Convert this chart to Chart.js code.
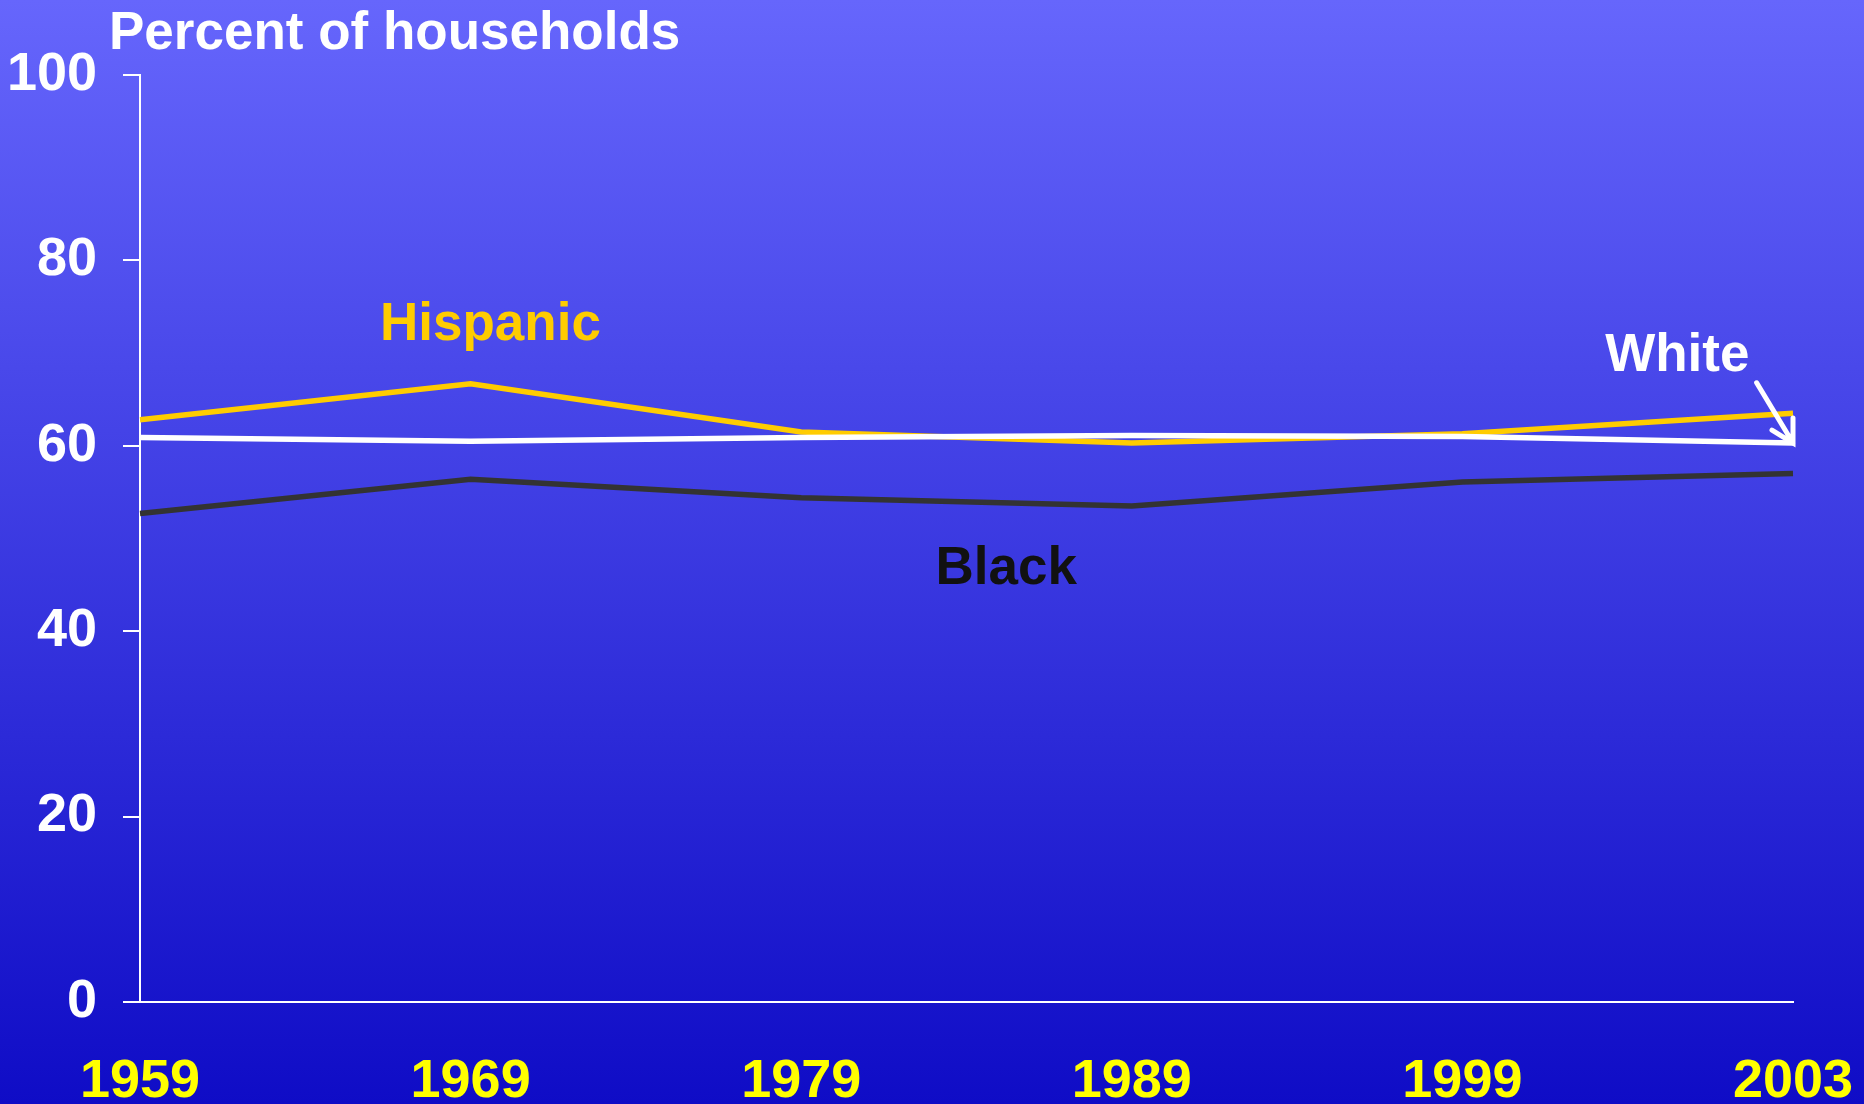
<!DOCTYPE html>
<html>
<head>
<meta charset="utf-8">
<script src="https://cdn.jsdelivr.net/npm/chart.js@4.4.1/dist/chart.umd.min.js"></script>
<style>
  html, body { margin: 0; padding: 0; background: #3a3ae0; }
  canvas { display: block; }
</style>
</head>
<body>
<canvas id="chart" width="1864" height="1104"></canvas>
<script>
const years = ['1959', '1969', '1979', '1989', '1999', '2003'];
const hispanic = [62.8, 66.7, 61.5, 60.3, 61.3, 63.5];
const white = [60.9, 60.5, 60.9, 61.1, 61.0, 60.3];
const black = [52.7, 56.4, 54.4, 53.5, 56.1, 57.0];
const yTicks = [0, 20, 40, 60, 80, 100];

const FONT = '"Liberation Sans", Arial, sans-serif';

// fond dégradé + titre + étiquettes des séries
const decor = {
  id: 'decor',
  beforeDraw(chart) {
    const c = chart.ctx;
    const g = c.createLinearGradient(0, 0, 0, chart.height);
    g.addColorStop(0, '#6666fc');
    g.addColorStop(1, '#0f0cc6');
    c.save();
    c.fillStyle = g;
    c.fillRect(0, 0, chart.width, chart.height);
    c.restore();
  },
  afterDraw(chart) {
    const c = chart.ctx;
    const x = chart.scales.x, y = chart.scales.y;
    c.save();
    c.font = 'bold 53px ' + FONT;
    c.textBaseline = 'alphabetic';
    c.textAlign = 'left';
    c.fillStyle = '#ffffff';
    c.fillText('Percent of households', 109, 49);

    c.textAlign = 'center';
    c.textBaseline = 'middle';
    c.fillStyle = '#ffcc00';
    c.fillText('Hispanic', x.getPixelForValue(1.06), y.getPixelForValue(73.0));
    c.fillStyle = '#ffffff';
    c.fillText('White', x.getPixelForValue(4.65), y.getPixelForValue(69.6));
    c.fillStyle = '#111111';
    c.fillText('Black', x.getPixelForValue(2.62), y.getPixelForValue(46.7));

    // flèche vers la courbe White
    const tx = x.getPixelForValue(5), ty = y.getPixelForValue(white[5]);
    const sx = x.getPixelForValue(4.89), sy = y.getPixelForValue(66.8);
    c.strokeStyle = '#ffffff';
    c.lineWidth = 5;
    c.lineCap = 'round';
    c.beginPath();
    c.moveTo(sx, sy);
    c.lineTo(tx, ty);
    c.moveTo(tx - 21, ty - 13);
    c.lineTo(tx, ty);
    c.lineTo(tx, ty - 25);
    c.stroke();
    c.restore();
  }
};

new Chart(document.getElementById('chart'), {
  type: 'line',
  data: {
    labels: years,
    datasets: [
      { label: 'White', data: white, borderColor: '#ffffff', borderWidth: 5.5 },
      { label: 'Black', data: black, borderColor: '#333333', borderWidth: 5.5 },
      { label: 'Hispanic', data: hispanic, borderColor: '#ffcc00', borderWidth: 5.5 }
    ]
  },
  options: {
    responsive: false,
    animation: false,
    layout: { padding: { top: 75, right: 71, left: 0, bottom: 0 } },
    elements: {
      point: { radius: 0, hoverRadius: 0 },
      line: { tension: 0, borderCapStyle: 'butt' }
    },
    scales: {
      x: {
        offset: false,
        afterFit: s => { s.height = 102; s.paddingLeft = 0; s.paddingRight = 0; },
        grid: { display: false, drawTicks: false },
        border: { color: '#ffffff', width: 2 },
        ticks: {
          color: '#ffff00',
          padding: 48,
          maxRotation: 0,
          autoSkip: false,
          font: { family: FONT, size: 54, weight: 'bold' }
        }
      },
      y: {
        min: 0,
        max: 100,
        afterFit: s => { s.width = 140; s.paddingTop = 0; s.paddingBottom = 0; },
        afterBuildTicks: s => { s.ticks = yTicks.map(v => ({ value: v })); },
        grid: { drawOnChartArea: false, tickLength: 17, color: '#ffffff', lineWidth: 2 },
        border: { color: '#ffffff', width: 2 },
        ticks: {
          color: '#ffffff',
          padding: 26,
          font: { family: FONT, size: 54, weight: 'bold' }
        }
      }
    },
    plugins: {
      legend: { display: false },
      tooltip: { enabled: false }
    }
  },
  plugins: [decor]
});
</script>
</body>
</html>
